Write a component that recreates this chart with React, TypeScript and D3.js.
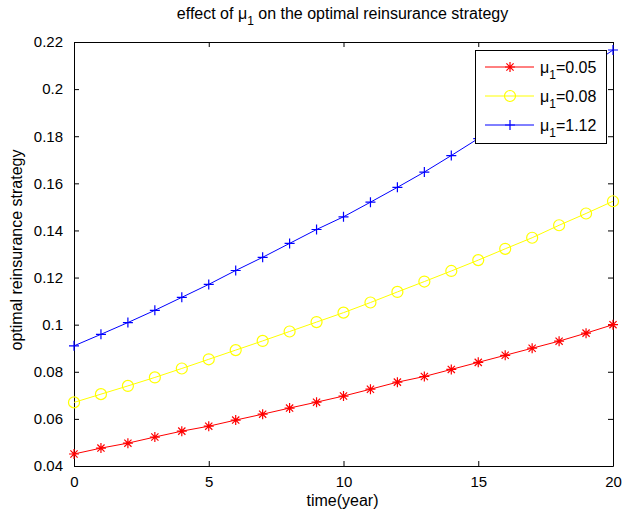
import { useEffect, useRef } from "react";
import { select, scaleLinear, axisBottom, axisLeft, axisTop, axisRight, line, range } from "d3";

const years = range(0, 21);
const mu005 = [0.0451, 0.0476, 0.0497, 0.0523, 0.0548, 0.0569, 0.0595, 0.062, 0.0646, 0.0671, 0.0697,
  0.0726, 0.0756, 0.078, 0.081, 0.084, 0.087, 0.09, 0.093, 0.0964, 0.1];
const mu008 = [0.067, 0.0705, 0.074, 0.0776, 0.0814, 0.0853, 0.0892, 0.0931, 0.0971, 0.1011, 0.1051,
  0.1094, 0.1139, 0.1183, 0.1228, 0.1274, 0.1322, 0.1369, 0.1422, 0.1472, 0.1524];
const mu112 = [0.091, 0.0959, 0.1009, 0.1061, 0.1116, 0.1171, 0.123, 0.1286, 0.1345, 0.1404, 0.1458,
  0.152, 0.1583, 0.1648, 0.1718, 0.179, 0.1863, 0.1937, 0.2012, 0.2088, 0.2166];
const legendNames = ["0.05", "0.08", "1.12"];
const xTicks = [0, 5, 10, 15, 20];
const yTicks = [0.04, 0.06, 0.08, 0.1, 0.12, 0.14, 0.16, 0.18, 0.2, 0.22];

const App = () => {
  const ref = useRef<SVGSVGElement>(null);

  useEffect(() => {
    const svg = select(ref.current);
    svg.selectAll("*").remove();

    const WIDTH = 624, HEIGHT = 515;
    const M = { top: 42, right: 11, bottom: 49, left: 74 };
    const font = "'Liberation Sans', Arial, Helvetica, sans-serif";

    const x = scaleLinear().domain([0, 20]).range([M.left, WIDTH - M.right]);
    const y = scaleLinear().domain([0.04, 0.22]).range([HEIGHT - M.bottom, M.top]);

    svg.append("rect").attr("width", WIDTH).attr("height", HEIGHT).attr("fill", "#fff");

    const fmt = (d: any) => String(+d.toFixed(2));

    // box axes, ticks pointing inward on all four sides
    const xb = svg.append("g").attr("transform", `translate(0,${y(0.04)})`)
      .call(axisBottom(x).tickValues(xTicks).tickSizeInner(-5).tickSizeOuter(0).tickPadding(10).tickFormat(fmt as any));
    const xt = svg.append("g").attr("transform", `translate(0,${y(0.22)})`)
      .call(axisTop(x).tickValues(xTicks).tickSizeInner(-5).tickSizeOuter(0).tickFormat(() => ""));
    const yl = svg.append("g").attr("transform", `translate(${x(0)},0)`)
      .call(axisLeft(y).tickValues(yTicks).tickSizeInner(-5).tickSizeOuter(0).tickPadding(11).tickFormat(fmt as any));
    const yr = svg.append("g").attr("transform", `translate(${x(20)},0)`)
      .call(axisRight(y).tickValues(yTicks).tickSizeInner(-5).tickSizeOuter(0).tickFormat(() => ""));

    [xb, xt, yl, yr].forEach(g => {
      g.select(".domain").attr("stroke", "#000").attr("stroke-width", 1);
      g.selectAll(".tick line").attr("stroke", "#000");
      g.selectAll("text").attr("font-family", font).attr("font-size", 15).attr("fill", "#000");
    });

    const lineGen = line<number>().x((_, i) => x(years[i])).y(d => y(d));

    const series = [
      { data: mu005, color: "#ff0000", marker: "star" },
      { data: mu008, color: "#ffff00", marker: "circle" },
      { data: mu112, color: "#0000ff", marker: "plus" },
    ];

    const drawMarker = (g: any, cx: number, cy: number, kind: string, color: string) => {
      if (kind === "circle") {
        g.append("circle").attr("cx", cx).attr("cy", cy).attr("r", 5.5)
          .attr("fill", "none").attr("stroke", color).attr("stroke-width", 1.2);
      } else if (kind === "plus") {
        const s = 5;
        g.append("path").attr("d", `M${cx - s},${cy}H${cx + s}M${cx},${cy - s}V${cy + s}`)
          .attr("stroke", color).attr("stroke-width", 1.2);
      } else {
        const s = 5, d = 3.6;
        g.append("path")
          .attr("d", `M${cx - s},${cy}H${cx + s}M${cx},${cy - s}V${cy + s}M${cx - d},${cy - d}L${cx + d},${cy + d}M${cx - d},${cy + d}L${cx + d},${cy - d}`)
          .attr("stroke", color).attr("stroke-width", 1.2);
      }
    };

    series.forEach(s => {
      svg.append("path").attr("d", lineGen(s.data)).attr("fill", "none")
        .attr("stroke", s.color).attr("stroke-width", 1);
      const mg = svg.append("g");
      s.data.forEach((v, i) => drawMarker(mg, x(years[i]), y(v), s.marker, s.color));
    });

    // title
    const title = svg.append("text").attr("x", (x(0) + x(20)) / 2 - 1).attr("y", 19)
      .attr("text-anchor", "middle").attr("font-family", font).attr("font-size", 16);
    title.append("tspan").text("effect of μ");
    title.append("tspan").attr("dy", 6).attr("font-size", 12).text("1");
    title.append("tspan").attr("dy", -6).text(" on the optimal reinsurance strategy");

    svg.append("text").attr("x", (x(0) + x(20)) / 2 - 1).attr("y", 505.5)
      .attr("text-anchor", "middle").attr("font-family", font).attr("font-size", 16)
      .text("time(year)");

    svg.append("text").attr("transform", `translate(22,250) rotate(-90)`)
      .attr("text-anchor", "middle").attr("font-family", font).attr("font-size", 16)
      .text("optimal reinsurance strategy");

    // legend
    const lg = svg.append("g");
    lg.append("rect").attr("x", 475.5).attr("y", 50.5).attr("width", 131).attr("height", 93)
      .attr("fill", "#fff").attr("stroke", "#000").attr("stroke-width", 1);
    series.forEach((s, i) => {
      const ly = 67 + i * 29;
      lg.append("line").attr("x1", 485).attr("x2", 534).attr("y1", ly).attr("y2", ly)
        .attr("stroke", s.color).attr("stroke-width", 1);
      drawMarker(lg, 510, ly, s.marker, s.color);
      const t = lg.append("text").attr("x", 540).attr("y", ly + 5.5)
        .attr("font-family", font).attr("font-size", 16);
      t.append("tspan").text("μ");
      t.append("tspan").attr("dy", 6).attr("font-size", 12).text("1");
      t.append("tspan").attr("dy", -6).text("=" + legendNames[i]);
    });
  }, []);

  return (
    <svg ref={ref} width={624} height={515}
      style={{ position: "absolute", left: 0, top: 0, display: "block" }} />
  );
};

export default App;
